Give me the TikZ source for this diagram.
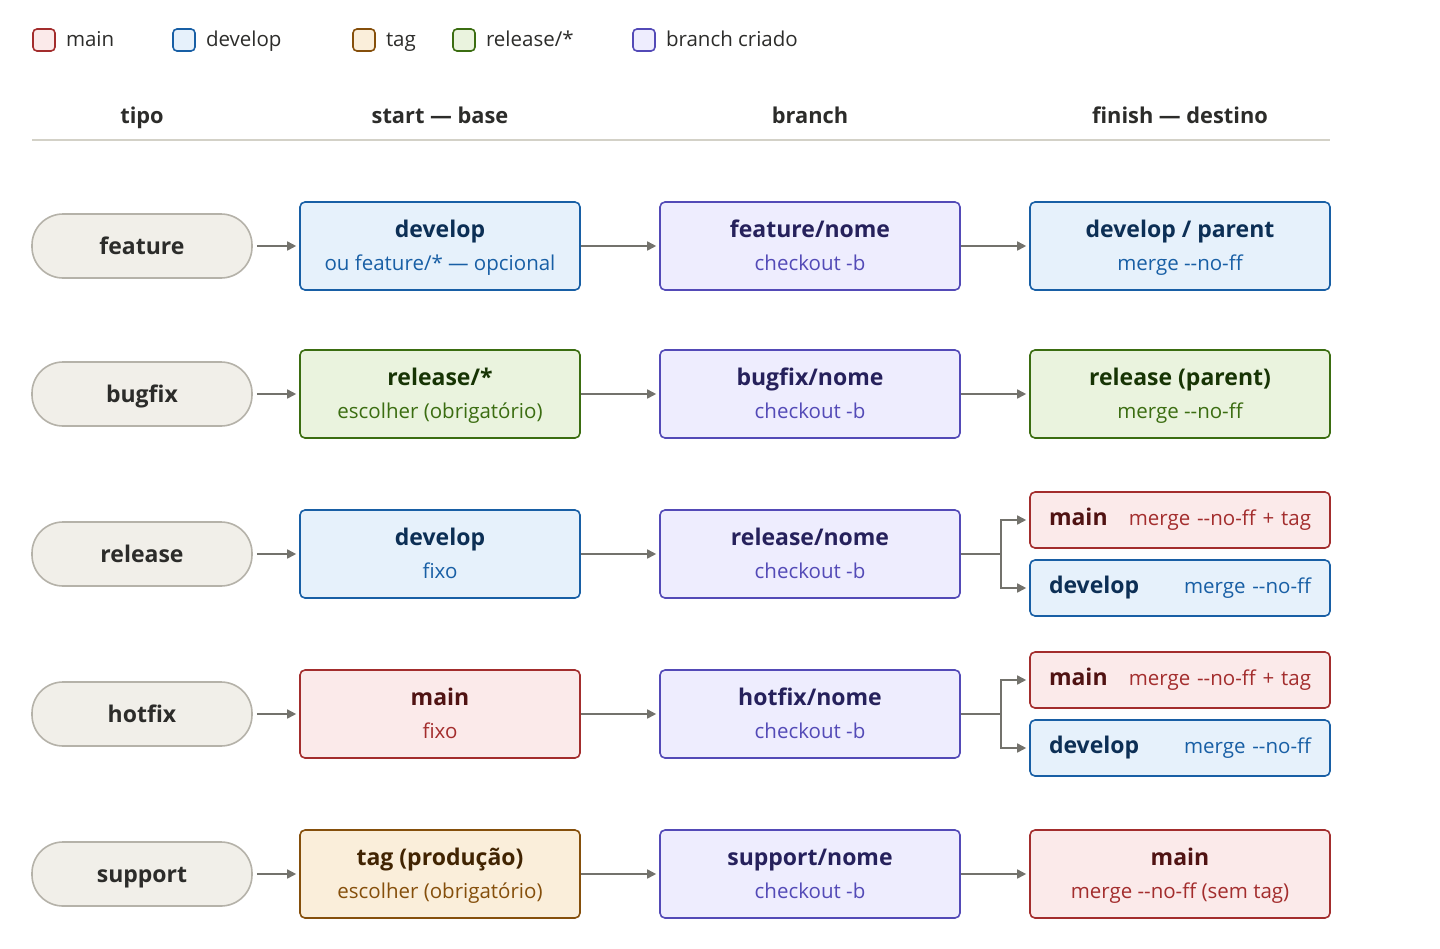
\documentclass[tikz,border=0pt]{standalone}
\usepackage{fontspec}
\setmainfont{Open Sans}
\usetikzlibrary{arrows.meta, positioning}

\definecolor{pillfill}{HTML}{F1EFE9}
\definecolor{pilldraw}{HTML}{B5B2A9}
\definecolor{pilltext}{HTML}{2C2C2A}
\definecolor{mainfill}{HTML}{FBEAEA}
\definecolor{maindraw}{HTML}{A32D2D}
\definecolor{maintitle}{HTML}{501313}
\definecolor{devfill}{HTML}{E6F1FB}
\definecolor{devdraw}{HTML}{185FA5}
\definecolor{devtitle}{HTML}{0C2F55}
\definecolor{tagfill}{HTML}{FAEEDA}
\definecolor{tagdraw}{HTML}{854F0B}
\definecolor{tagtitle}{HTML}{412402}
\definecolor{relfill}{HTML}{EAF3DE}
\definecolor{reldraw}{HTML}{3B6D11}
\definecolor{reltitle}{HTML}{173404}
\definecolor{newfill}{HTML}{EEEDFE}
\definecolor{newdraw}{HTML}{534AB7}
\definecolor{newtitle}{HTML}{26215C}
\definecolor{arrowgray}{HTML}{73726C}
\definecolor{rulegray}{HTML}{D3D1C7}

\newcommand{\boxtext}[3]{{\bfseries\color{#1}#2}\\{\fontsize{20.5}{33}\selectfont #3}}
\newcommand{\mergenoff}{merge -\kern0pt-no-ff}

\begin{document}
\begin{tikzpicture}[
x=1pt, y=-1pt,
box/.style={draw, rectangle, rounded corners=5pt, line width=1.6pt, align=center, minimum width=280pt, minimum height=88pt, inner sep=0pt, text height=50pt, text depth=2pt, font=\fontsize{23}{33}\selectfont},
mainbox/.style={box, fill=mainfill, draw=maindraw, text=maindraw},
devbox/.style={box, fill=devfill, draw=devdraw, text=devdraw},
tagbox/.style={box, fill=tagfill, draw=tagdraw, text=tagdraw},
relbox/.style={box, fill=relfill, draw=reldraw, text=reldraw},
newbox/.style={box, fill=newfill, draw=newdraw, text=newdraw, minimum width=300pt},
endbox/.style={minimum width=300pt},
splitbox/.style={minimum width=300pt, minimum height=56pt, align=left, text width=262pt, inner xsep=19pt, text height=16pt, text depth=5pt, font=\fontsize{20.5}{24}\selectfont},
pill/.style={draw=pilldraw, fill=pillfill, line width=1.6pt, rounded corners=31pt, minimum width=220pt, minimum height=64pt, text height=17pt, text depth=1pt, text=pilltext, font=\fontsize{23}{26}\selectfont\bfseries},
legbox/.style={draw, rounded corners=4pt, line width=1.6pt, minimum size=22pt, inner sep=0pt},
legtext/.style={right=10pt of #1, inner sep=0pt, text height=15pt, text depth=3pt, text=pilltext, font=\fontsize{20.5}{24}\selectfont},
head/.style={text=pilltext, text height=16pt, text depth=1pt, font=\fontsize{21.8}{24}\selectfont\bfseries},
arrow/.style={-{Triangle[length=9pt, width=9pt]}, line width=1.6pt, draw=arrowgray, shorten >=3pt}
]
\useasboundingbox (0,0) rectangle (1440,948);

% legenda
\node[legbox, fill=mainfill, draw=maindraw] (lmain) at (44,40) {};
\node[legtext=lmain] (tmain) {main};
\node[legbox, fill=devfill, draw=devdraw] (ldev) at (184,40) {};
\node[legtext=ldev] (tdev) {develop};
\node[legbox, fill=tagfill, draw=tagdraw] (ltag) at (364,40) {};
\node[legtext=ltag] (ttag) {tag};
\node[legbox, fill=relfill, draw=reldraw] (lrel) at (464,40) {};
\node[legtext=lrel] (trel) {release/*};
\node[legbox, fill=newfill, draw=newdraw] (lnew) at (644,40) {};
\node[legtext=lnew] (tnew) {branch criado};

% cabecalho
\node[head] (htipo) at (142,116) {tipo};
\node[head] (hstart) at (440,116) {start — base};
\node[head] (hbranch) at (810,116) {branch};
\node[head] (hfinish) at (1180,116) {finish — destino};
\draw[rulegray, line width=1.4pt] (32,140) -- (1330,140);

% feature
\node[pill] (feature) at (142,246) {feature};
\node[devbox] (base1) at (440,246) {\boxtext{devtitle}{develop}{ou feature/* — opcional}};
\node[newbox] (br1) at (810,246) {\boxtext{newtitle}{feature/nome}{checkout -b}};
\node[devbox, endbox] (fin1) at (1180,246) {\boxtext{devtitle}{develop / parent}{\mergenoff}};

% bugfix
\node[pill] (bugfix) at (142,394) {bugfix};
\node[relbox] (base2) at (440,394) {\boxtext{reltitle}{release/*}{escolher (obrigatório)}};
\node[newbox] (br2) at (810,394) {\boxtext{newtitle}{bugfix/nome}{checkout -b}};
\node[relbox, endbox] (fin2) at (1180,394) {\boxtext{reltitle}{release (parent)}{\mergenoff}};

% release
\node[pill] (release) at (142,554) {release};
\node[devbox] (base3) at (440,554) {\boxtext{devtitle}{develop}{fixo}};
\node[newbox] (br3) at (810,554) {\boxtext{newtitle}{release/nome}{checkout -b}};
\node[mainbox, splitbox] (fin3m) at (1180,520) {{\fontsize{23}{24}\selectfont\bfseries\color{maintitle}main}\hfill \mergenoff{} + tag};
\node[devbox, splitbox] (fin3d) at (1180,588) {{\fontsize{23}{24}\selectfont\bfseries\color{devtitle}develop}\hfill \mergenoff};

% hotfix
\node[pill] (hotfix) at (142,714) {hotfix};
\node[mainbox] (base4) at (440,714) {\boxtext{maintitle}{main}{fixo}};
\node[newbox] (br4) at (810,714) {\boxtext{newtitle}{hotfix/nome}{checkout -b}};
\node[mainbox, splitbox] (fin4m) at (1180,680) {{\fontsize{23}{24}\selectfont\bfseries\color{maintitle}main}\hfill \mergenoff{} + tag};
\node[devbox, splitbox] (fin4d) at (1180,748) {{\fontsize{23}{24}\selectfont\bfseries\color{devtitle}develop}\hfill \mergenoff};

% support
\node[pill] (support) at (142,874) {support};
\node[tagbox] (base5) at (440,874) {\boxtext{tagtitle}{tag (produção)}{escolher (obrigatório)}};
\node[newbox] (br5) at (810,874) {\boxtext{newtitle}{support/nome}{checkout -b}};
\node[mainbox, endbox] (fin5) at (1180,874) {\boxtext{maintitle}{main}{\mergenoff{} (sem tag)}};

% setas
\foreach \i/\t in {1/feature, 2/bugfix, 3/release, 4/hotfix, 5/support} {
  \draw[arrow, shorten <=4pt] (\t) -- (base\i);
  \draw[arrow] (base\i) -- (br\i);
}
\foreach \i in {1, 2, 5} {
  \draw[arrow] (br\i) -- (fin\i);
}
\foreach \i in {3, 4} {
  \draw[arrow] (br\i.east) -- ++(40,0) |- (fin\i m.west);
  \draw[arrow] (br\i.east) -- ++(40,0) |- (fin\i d.west);
}

\end{tikzpicture}
\end{document}
